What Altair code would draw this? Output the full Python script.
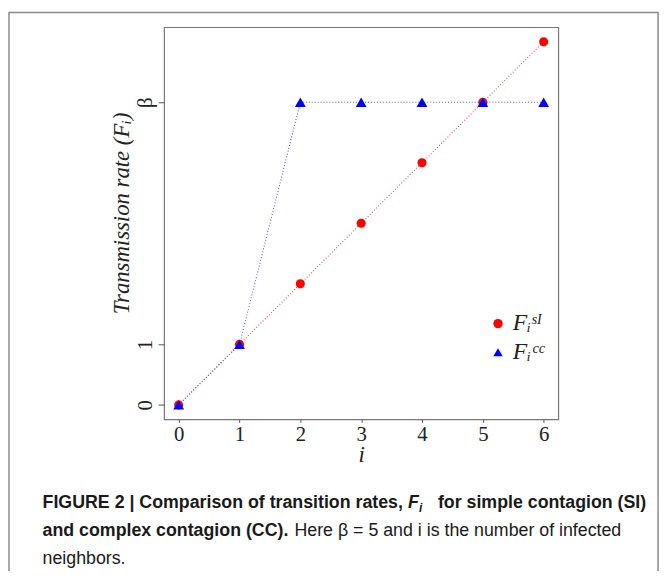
import altair as alt
import pandas as pd

# ---- data ----
i_vals = [0, 1, 2, 3, 4, 5, 6]
si_vals = [0, 1, 2, 3, 4, 5, 6]
cc_vals = [0, 1, 5, 5, 5, 5, 5]
si_label = "Fᵢˢᴵ"
cc_label = "Fᵢᶜᶜ"
y_tick_vals = [0, 1, 5]
x_tick_vals = [0, 1, 2, 3, 4, 5, 6]

df = pd.DataFrame({
    "i": i_vals + i_vals,
    "F": si_vals + cc_vals,
    "series": ["SI"] * len(i_vals) + ["CC"] * len(i_vals),
    "label": [si_label] * len(i_vals) + [cc_label] * len(i_vals),
})

SERIF = "Liberation Serif"
SANS = "Liberation Sans"
W, H = 399, 397
OX, OY = 166, 24  # page position of plot origin

xs = alt.Scale(domain=[-0.24, 6.24], nice=False, zero=False)
ys = alt.Scale(domain=[-0.24, 6.24], nice=False, zero=False)

x_enc = alt.X("i:Q", scale=xs, axis=alt.Axis(
    values=x_tick_vals, format="d", grid=False, domain=False,
    tickSize=3, tickColor="#555", labelFont=SERIF, labelFontSize=21,
    labelColor="#222", labelPadding=1, labelFlush=False,
    title="i", titleFont=SERIF, titleFontSize=23, titleFontStyle="italic",
    titleFontWeight="normal", titleColor="#222", titleY=43,
    titleBaseline="alphabetic"))
y_enc = alt.Y("F:Q", scale=ys, axis=alt.Axis(
    values=y_tick_vals, format="d", grid=False, domain=False,
    labelExpr="datum.value == 5 ? 'β' : datum.label",
    tickSize=6, tickColor="#555", labelFont=SERIF, labelFontSize=21,
    labelColor="#222", labelAngle=270, labelAlign="center",
    labelBaseline="alphabetic", labelPadding=7, labelFlush=False,
    title="Transmission rate (Fᵢ)", titleFont=SERIF, titleFontSize=23,
    titleFontStyle="italic", titleFontWeight="normal", titleColor="#222",
    titleAngle=270, titleAlign="center", titleBaseline="alphabetic",
    titleX=-36, titleY=188))

base = alt.Chart(df)

line_si = base.transform_filter("datum.series == 'SI'").mark_line(
    strokeDash=[1, 2], strokeWidth=1.1, color="#e8505e").encode(x=x_enc, y=y_enc)
line_cc = base.transform_filter("datum.series == 'CC'").mark_line(
    strokeDash=[1, 2], strokeWidth=1.1, color="#5a5ae6").encode(x=x_enc, y=y_enc)

points = base.mark_point(filled=True, opacity=1).encode(
    x=x_enc, y=y_enc,
    color=alt.Color("label:N", scale=alt.Scale(domain=[si_label, cc_label], range=["#ff0000", "#0000ff"]),
                    title=None, sort=[si_label, cc_label]),
    shape=alt.Shape("label:N", scale=alt.Scale(domain=[si_label, cc_label], range=["circle", "triangle-up"]),
                    title=None, sort=[si_label, cc_label]),
    size=alt.Size("series:N", scale=alt.Scale(domain=["SI", "CC"], range=[85, 120]), legend=None),
    order=alt.Order("order:Q"),
).transform_calculate(order="datum.series == 'SI' ? 0 : 1")

one = pd.DataFrame({"a": [0]})

frame = alt.Chart(one).mark_rect(fill=None, stroke="#8a8a8a", strokeWidth=1.5).encode(
    x=alt.value(9 - OX), x2=alt.value(666 - OX), y=alt.value(9 - OY), y2=alt.value(700))

def txt(s, px, py, weight="normal", style="normal", size=18, align="left", font=SANS):
    return alt.Chart(one).mark_text(
        text=s, align=align, baseline="alphabetic", font=font, fontSize=size,
        fontWeight=weight, fontStyle=style, color="#1a1a1a").encode(
        x=alt.value(px - OX), y=alt.value(py - OY))

cap = [
    txt("FIGURE 2 | Comparison of transition rates,", 43, 511, weight="bold"),
    txt("F", 413, 511, weight="bold", style="italic"),
    txt("i", 424, 515, weight="bold", style="italic", size=12),
    txt("for simple contagion (SI)", 654, 511, weight="bold", align="right"),
    txt("and complex contagion (CC).", 43, 539, weight="bold"),
    txt("Here β = 5 and i is the number of infected", 298, 539),
    txt("neighbors.", 43, 567),
]

chart = alt.layer(frame, line_si, line_cc, points, *cap).properties(
    width=W, height=H,
    background="white",
    autosize=alt.AutoSizeParams(type="none"),
    padding={"left": OX - 8, "top": OY - 8, "right": 662 - (OX - 8) - W, "bottom": 563 - (OY - 8) - H},
).configure_view(stroke="#777", strokeWidth=1.2).configure_legend(
    orient="none", legendX=326, legendY=288, padding=0, rowPadding=5,
    labelFont=SERIF, labelFontSize=24, labelFontStyle="italic", labelColor="#222",
    symbolSize=90, symbolStrokeWidth=0, labelOffset=3,
)

chart.save("out.html", embed_options={"renderer": "svg", "actions": False})
